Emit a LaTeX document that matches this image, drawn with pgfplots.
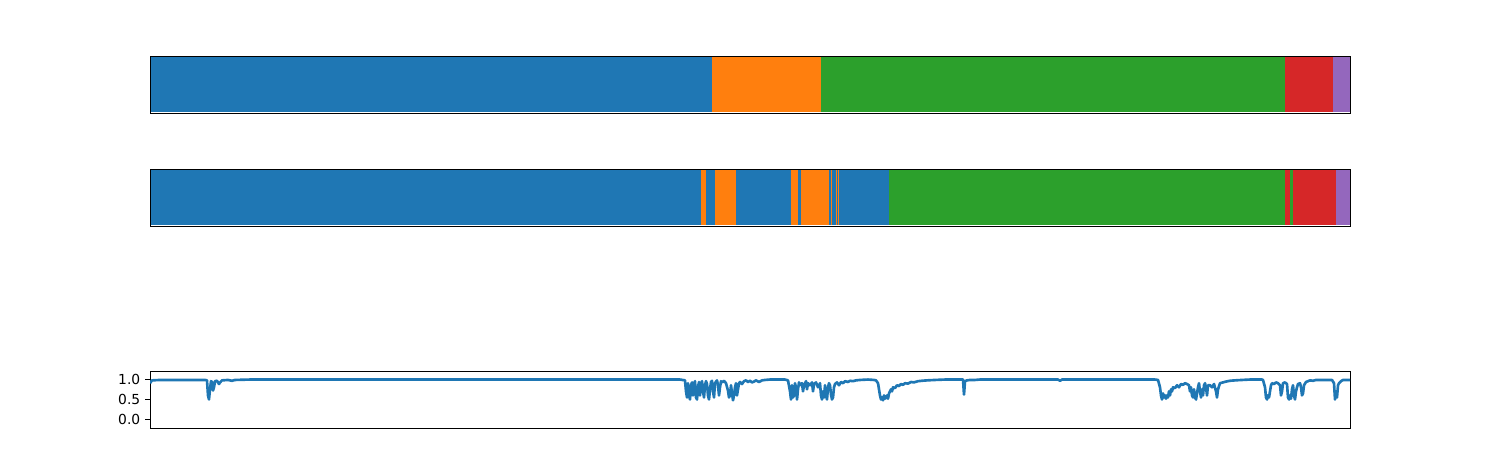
\documentclass[border=0pt]{standalone}
\usepackage{fontspec}
\setmainfont{DejaVu Sans}
\usepackage{pgfplots}
\pgfplotsset{compat=1.18}
\definecolor{tabblue}{HTML}{1F77B4}
\definecolor{taborange}{HTML}{FF7F0E}
\definecolor{tabgreen}{HTML}{2CA02C}
\definecolor{tabred}{HTML}{D62728}
\definecolor{tabpurple}{HTML}{9467BD}
\pgfplotsset{
  segaxis/.style={
    anchor=south west, scale only axis, width=864bp, height=41.04bp,
    xmin=0, xmax=1200, ymin=-0.02, ymax=1,
    xtick=\empty, ytick=\empty, axis on top,
    axis line style={line width=0.7bp},
  },
}
\begin{document}
\begin{tikzpicture}
\useasboundingbox (0,0) rectangle (1080bp,324bp);
% top bar
\begin{axis}[segaxis, at={(108bp,242.64bp)}]
\addplot[fill=tabblue, draw=none] coordinates {(0,0) (0,1) (562,1) (562,0)} --cycle;
\addplot[fill=taborange, draw=none] coordinates {(562,0) (562,1) (671,1) (671,0)} --cycle;
\addplot[fill=tabgreen, draw=none] coordinates {(671,0) (671,1) (1135,1) (1135,0)} --cycle;
\addplot[fill=tabred, draw=none] coordinates {(1135,0) (1135,1) (1183,1) (1183,0)} --cycle;
\addplot[fill=tabpurple, draw=none] coordinates {(1183,0) (1183,1) (1200,1) (1200,0)} --cycle;
\end{axis}
% second bar
\begin{axis}[segaxis, at={(108bp,161.28bp)}]
\addplot[fill=tabblue, draw=none] coordinates {(0,0) (0,1) (739,1) (739,0)} --cycle;
\addplot[fill=taborange, draw=none] coordinates {(551,0) (551,1) (556,1) (556,0)} --cycle;
\addplot[fill=taborange, draw=none] coordinates {(565,0) (565,1) (586,1) (586,0)} --cycle;
\addplot[fill=taborange, draw=none] coordinates {(641,0) (641,1) (648,1) (648,0)} --cycle;
\addplot[fill=taborange, draw=none] coordinates {(651,0) (651,1) (679,1) (679,0)} --cycle;
\addplot[fill=taborange, draw=none] coordinates {(681,0) (681,1) (682,1) (682,0)} --cycle;
\addplot[fill=taborange, draw=none] coordinates {(686,0) (686,1) (687,1) (687,0)} --cycle;
\addplot[fill=taborange, draw=none] coordinates {(688,0) (688,1) (689,1) (689,0)} --cycle;
\addplot[fill=tabgreen, draw=none] coordinates {(739,0) (739,1) (1200,1) (1200,0)} --cycle;
\addplot[fill=tabred, draw=none] coordinates {(1135.3,0) (1135.3,1) (1140,1) (1140,0)} --cycle;
\addplot[fill=tabred, draw=none] coordinates {(1143.3,0) (1143.3,1) (1186,1) (1186,0)} --cycle;
\addplot[fill=tabpurple, draw=none] coordinates {(1186,0) (1186,1) (1200,1) (1200,0)} --cycle;
\end{axis}
% line plot
\begin{axis}[anchor=south west, at={(108bp,15.84bp)}, scale only axis,
  width=864bp, height=41.04bp,
  xmin=0, xmax=1200, ymin=-0.2, ymax=1.2,
  xtick=\empty, ytick={0,0.5,1},
  yticklabel style={/pgf/number format/.cd, fixed, fixed zerofill, precision=1, assume math mode=true},
  tick align=outside, major tick length=3.5bp, tick style={line width=0.8bp, black},
  ytick pos=left,
  tick label style={font=\fontsize{10}{12}\selectfont},
  axis line style={line width=0.7bp},
]
\addplot[tabblue, line width=1.9bp, line join=round] coordinates {
(0,0.9) (2,0.97) (10,0.98) (30,0.98) (50,0.98) (55,0.98) (57,0.97) (58,0.6) (59,0.5) (60,0.75) (61,0.95) (62,0.93) (63,0.72) (64,0.8) (65,0.95) (67,0.96) (69,0.88) (70,0.92) (72,0.97) (78,0.98) (82,0.96) (85,0.98) (100,0.99) (300,0.99) (530,0.99)
(535,0.97) (536,0.7) (537,0.55) (538,0.9) (539,0.6) (540,0.5) (541,0.85) (542,0.92) (543,0.6) (544,0.88) (545,0.95) (546,0.55) (547,0.5) (548,0.8) (549,0.93) (550,0.6) (551,0.9) (552,0.95) (553,0.7) (554,0.55) (555,0.85) (556,0.95) (557,0.88) (558,0.6) (559,0.5) (560,0.75) (561,0.93) (562,0.96) (563,0.7) (564,0.55) (565,0.9) (566,0.94) (567,0.97) (568,0.85) (569,0.6) (570,0.8) (571,0.95) (572,0.92) (574,0.96) (576,0.9) (578,0.72) (579,0.55) (580,0.6) (581,0.85) (582,0.65) (583,0.48) (584,0.6) (585,0.8) (586,0.9) (587,0.6) (588,0.75) (589,0.9) (590,0.93) (592,0.88) (594,0.95) (596,0.97) (598,0.93) (600,0.96) (602,0.92) (604,0.94) (606,0.97) (609,0.93) (612,0.97) (615,0.98) (620,0.99) (635,0.99)
(638,0.97) (640,0.7) (641,0.5) (642,0.85) (643,0.55) (644,0.6) (645,0.9) (646,0.8) (647,0.5) (648,0.75) (649,0.92) (650,0.85) (652,0.9) (653,0.7) (654,0.85) (656,0.95) (657,0.75) (658,0.9) (660,0.85) (662,0.92) (663,0.7) (664,0.88) (666,0.92) (668,0.8) (670,0.9) (671,0.6) (672,0.5) (673,0.7) (674,0.55) (675,0.85) (676,0.6) (677,0.5) (678,0.8) (679,0.9) (680,0.85) (681,0.62) (682,0.5) (683,0.55) (684,0.8) (685,0.88) (687,0.92) (689,0.85) (691,0.93) (693,0.9) (695,0.95) (698,0.93) (700,0.96) (703,0.95) (706,0.97) (710,0.98) (718,0.99) (724,0.98)
(726,0.97) (728,0.9) (729,0.75) (730,0.6) (731,0.5) (732,0.55) (733,0.48) (734,0.6) (735,0.52) (736,0.55) (737,0.6) (738,0.52) (739,0.65) (740,0.7) (741,0.75) (742,0.7) (743,0.8) (745,0.78) (747,0.85) (749,0.83) (751,0.88) (753,0.86) (755,0.9) (758,0.89) (761,0.93) (764,0.92) (768,0.95) (772,0.96) (777,0.97) (785,0.98) (795,0.99) (812,0.99)
(813,0.99) (814,0.62) (815,0.95) (817,0.97) (820,0.98) (825,0.98) (830,0.99) (908,0.99) (910,0.96) (912,0.99) (1005,0.99)
(1008,0.98) (1010,0.8) (1011,0.6) (1012,0.5) (1013,0.65) (1014,0.55) (1015,0.6) (1016,0.52) (1017,0.6) (1018,0.55) (1019,0.7) (1020,0.6) (1021,0.75) (1022,0.7) (1023,0.8) (1025,0.78) (1027,0.85) (1029,0.8) (1031,0.88) (1033,0.86) (1035,0.9) (1037,0.88) (1039,0.85) (1040,0.7) (1041,0.8) (1042,0.6) (1043,0.55) (1044,0.75) (1045,0.55) (1046,0.5) (1047,0.65) (1048,0.8) (1049,0.9) (1050,0.7) (1051,0.55) (1052,0.75) (1053,0.6) (1054,0.85) (1055,0.9) (1056,0.8) (1057,0.6) (1058,0.85) (1060,0.85) (1062,0.8) (1064,0.88) (1066,0.7) (1067,0.55) (1068,0.75) (1070,0.9) (1073,0.92) (1076,0.94) (1080,0.96) (1085,0.97) (1092,0.98) (1100,0.99) (1112,0.99)
(1113,0.98) (1115,0.8) (1116,0.55) (1117,0.5) (1118,0.6) (1119,0.55) (1120,0.7) (1121,0.85) (1122,0.9) (1124,0.88) (1126,0.92) (1128,0.9) (1130,0.85) (1131,0.6) (1132,0.7) (1133,0.9) (1135,0.92) (1137,0.88) (1138,0.55) (1139,0.5) (1140,0.6) (1141,0.52) (1142,0.75) (1143,0.85) (1144,0.6) (1145,0.5) (1146,0.7) (1147,0.8) (1148,0.88) (1150,0.9) (1151,0.8) (1152,0.6) (1153,0.65) (1154,0.85) (1156,0.93) (1158,0.95) (1160,0.97) (1163,0.96) (1166,0.98) (1175,0.98) (1182,0.98) (1184,0.9) (1185,0.5) (1186,0.7) (1187,0.55) (1188,0.85) (1189,0.9) (1191,0.95) (1193,0.98) (1200,0.98)
};
\end{axis}
\end{tikzpicture}
\end{document}
